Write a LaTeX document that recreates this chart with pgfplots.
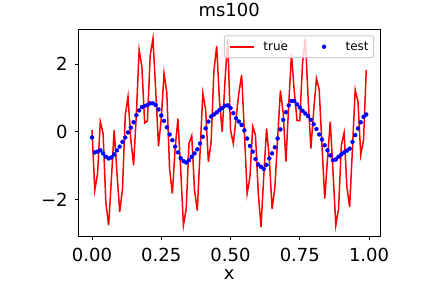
\documentclass[border=0pt]{standalone}
\usepackage{fontspec}
\setmainfont{DejaVu Sans}
\usepackage{pgfplots}
\usepackage{pgfplotstable}
\pgfplotsset{compat=1.18}
\pgfplotstableread{
x y
0.00 0.05
0.01 -1.73
0.02 -1.24
0.03 0.30
0.04 -0.05
0.05 -2.10
0.06 -2.77
0.07 -1.40
0.08 0.05
0.09 -1.20
0.10 -2.37
0.11 -1.70
0.12 0.48
0.13 1.04
0.14 -0.22
0.15 -0.99
0.16 0.50
0.17 2.42
0.18 1.93
0.19 0.26
0.20 0.32
0.21 2.25
0.22 2.76
0.23 1.20
0.24 -0.43
0.25 0.40
0.26 1.73
0.27 1.15
0.28 -1.10
0.29 -1.83
0.30 -0.50
0.31 0.39
0.32 -1.10
0.33 -2.77
0.34 -2.28
0.35 -0.35
0.36 -0.12
0.37 -1.73
0.38 -2.33
0.39 -0.60
0.40 1.14
0.41 0.66
0.42 -0.89
0.43 -0.30
0.44 1.80
0.45 2.53
0.46 0.92
0.47 0.00
0.48 1.50
0.49 2.75
0.50 0.05
0.51 -0.35
0.52 0.40
0.53 1.14
0.54 1.68
0.55 0.00
0.56 -1.83
0.57 -1.34
0.58 0.15
0.59 -0.10
0.60 -1.80
0.61 -2.82
0.62 -1.30
0.63 0.10
0.64 -0.80
0.65 -2.28
0.66 -1.65
0.67 -0.20
0.68 1.22
0.69 0.55
0.70 -0.88
0.71 0.80
0.72 2.30
0.73 1.20
0.74 0.33
0.75 0.33
0.76 2.05
0.77 2.75
0.78 1.00
0.79 -0.50
0.80 0.60
0.81 1.58
0.82 1.25
0.83 -0.40
0.84 -1.98
0.85 -0.80
0.86 0.30
0.87 -1.20
0.88 -2.77
0.89 -2.28
0.90 -0.40
0.91 -0.03
0.92 -1.63
0.93 -2.23
0.94 -0.50
0.95 1.24
0.96 0.89
0.97 -0.69
0.98 -0.25
0.99 1.83
}\truedata
\pgfplotstableread{
x y
0.00 -0.17
0.01 -0.61
0.02 -0.59
0.03 -0.55
0.04 -0.64
0.05 -0.74
0.06 -0.79
0.07 -0.76
0.08 -0.67
0.09 -0.55
0.10 -0.44
0.11 -0.30
0.12 -0.17
0.13 -0.02
0.14 0.12
0.15 0.28
0.16 0.49
0.17 0.63
0.18 0.73
0.19 0.76
0.20 0.79
0.21 0.84
0.22 0.84
0.23 0.79
0.24 0.66
0.25 0.48
0.26 0.32
0.27 0.13
0.28 -0.08
0.29 -0.25
0.30 -0.44
0.31 -0.61
0.32 -0.78
0.33 -0.87
0.34 -0.91
0.35 -0.84
0.36 -0.74
0.37 -0.64
0.38 -0.52
0.39 -0.35
0.40 -0.15
0.41 0.10
0.42 0.30
0.43 0.45
0.44 0.51
0.45 0.57
0.46 0.64
0.47 0.70
0.48 0.77
0.49 0.78
0.50 0.70
0.51 0.55
0.52 0.40
0.53 0.30
0.54 0.20
0.55 0.04
0.56 -0.20
0.57 -0.42
0.58 -0.59
0.59 -0.81
0.60 -0.97
0.61 -1.04
0.62 -1.10
0.63 -0.98
0.64 -0.79
0.65 -0.64
0.66 -0.46
0.67 -0.20
0.68 0.07
0.69 0.35
0.70 0.58
0.71 0.78
0.72 0.91
0.73 0.91
0.74 0.81
0.75 0.72
0.76 0.62
0.77 0.54
0.78 0.46
0.79 0.35
0.80 0.22
0.81 0.08
0.82 -0.08
0.83 -0.23
0.84 -0.40
0.85 -0.55
0.86 -0.70
0.87 -0.84
0.88 -0.82
0.89 -0.74
0.90 -0.67
0.91 -0.61
0.92 -0.56
0.93 -0.50
0.94 -0.30
0.95 -0.10
0.96 0.10
0.97 0.28
0.98 0.44
0.99 0.51
}\testdata
\begin{document}
\begin{tikzpicture}
\useasboundingbox (-78.3bp,-51.8bp) rectangle (353.7bp,236.2bp);
\begin{axis}[
  at={(0,0)}, anchor=south west,
  scale only axis, width=301.7bp, height=206.9bp,
  xmin=-0.0495, xmax=1.0395, ymin=-3.09, ymax=3.03,
  axis line style={line width=0.8bp},
  tick style={line width=0.8bp, black},
  tick align=outside, major tick length=3.5bp,
  xtick={0,0.25,0.5,0.75,1}, xticklabels={0.00,0.25,0.50,0.75,1.00},
  ytick={-2,0,2}, yticklabels={−2,0,2},
  xtick pos=bottom, ytick pos=left,
  ticklabel style={font=\fontsize{18bp}{18bp}\selectfont, inner sep=0pt},
  xticklabel style={anchor=base, yshift=-21.5bp},
  yticklabel style={anchor=east, xshift=-7bp},
  title={ms100},
  title style={at={(axis description cs:0.5,1)}, anchor=base, yshift=6.6bp, inner sep=0pt, font=\fontsize{18bp}{18bp}\selectfont},
  xlabel={x},
  xlabel style={at={(axis description cs:0.5,0)}, anchor=base, yshift=-43.1bp, inner sep=0pt, font=\fontsize{18bp}{18bp}\selectfont},
  legend columns=2,
  legend style={at={(axis description cs:1,1)}, anchor=north east, xshift=-6bp, yshift=-6bp,
    draw=black!20, line width=1bp, fill=white, fill opacity=0.8, text opacity=1,
    rounded corners=2bp, font=\fontsize{12bp}{12bp}\selectfont,
    inner xsep=4.8bp, inner ysep=6bp, column sep=0pt,
    nodes={inner sep=0pt}},
]
\addplot[red, line width=1.5bp, mark=none,
  legend image code/.code={\path[draw=none, fill=none] (0bp,0bp) -- (33.6bp,0bp);
    \draw[red, line width=1.5bp, opacity=1] (0bp,0bp) -- (24bp,0bp);}] table {\truedata};
\addlegendentry{true}
\addplot[only marks, blue, mark=*, mark size=2bp, line width=0.3bp,
  legend image code/.code={\path[draw=none, fill=none] (-24bp,0bp) -- (33.6bp,0bp);
    \fill[blue, opacity=1] (12bp,0bp) circle[radius=2bp];}] table {\testdata};
\addlegendentry{test}
\end{axis}
\end{tikzpicture}
\end{document}
